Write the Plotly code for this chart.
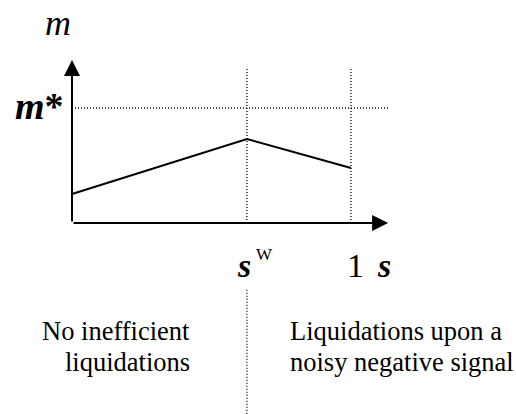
import plotly.graph_objects as go

# values (m* taken as 1, s runs 0..1)
s_pts = [0.0, 0.627, 1.0]
m_pts = [0.252, 0.730, 0.478]
s_w = 0.627
m_star = 1.0

# extent of the drawn axes / guides
s_axis_end = 1.133
m_axis_end = 1.417
guide_top = 1.339
guide_right = 1.14
low_guide = [-0.58, -1.7]

serif = "'Times New Roman', 'Liberation Serif', 'DejaVu Serif', serif"
dots = "1px,2px"

fig = go.Figure()

# dotted guides
fig.add_trace(go.Scatter(x=[0, guide_right], y=[m_star, m_star], mode="lines",
                         line=dict(color="black", width=1.3, dash=dots)))
for sx in [s_w, 1.0]:
    fig.add_trace(go.Scatter(x=[sx, sx], y=[0, guide_top], mode="lines",
                             line=dict(color="black", width=1.3, dash=dots)))
fig.add_trace(go.Scatter(x=[s_w, s_w], y=low_guide, mode="lines",
                         line=dict(color="black", width=1.3, dash=dots)))

# the m(s) curve
fig.add_trace(go.Scatter(x=s_pts, y=m_pts, mode="lines",
                         line=dict(color="black", width=2)))

# axes with arrows
fig.add_annotation(x=0, y=m_axis_end, ax=0, ay=0, axref="x", ayref="y",
                   text="", showarrow=True, arrowhead=2, arrowsize=1.6,
                   arrowwidth=2, arrowcolor="black", standoff=0)
fig.add_annotation(x=s_axis_end, y=0, ax=0, ay=0, axref="x", ayref="y",
                   text="", showarrow=True, arrowhead=2, arrowsize=1.6,
                   arrowwidth=2, arrowcolor="black", standoff=0)

big = dict(family=serif, size=34, color="black")

def label(text, x, y, xs=0, ys=0, xa="center", font=big):
    fig.add_annotation(x=x, y=y, text=text, showarrow=False, xanchor=xa,
                       yanchor="middle", xshift=xs, yshift=ys, font=font)

label("<i>m</i>", 0, m_axis_end, xs=-14, ys=37, font=dict(family=serif, size=36, color="black"))
label("<b><i>m</i>*</b>", 0, m_star, xs=-6, ys=2, xa="right",
      font=dict(family=serif, size=38, color="black"))
label("<b><i>s</i></b>", s_w, 0, xs=-3, ys=-42)
label("W", s_w, 0, xs=18, ys=-31, font=dict(family=serif, size=17, color="black"))
label("1", 1.0, 0, xs=4, ys=-42)
label("<b><i>s</i></b>", 1.0, 0, xs=33, ys=-42)

small = dict(family=serif, size=26.5, color="black")
label("No inefficient", s_w, 0, xs=-55, ys=-108, xa="right", font=small)
label("liquidations", s_w, 0, xs=-55, ys=-139, xa="right", font=small)
label("Liquidations upon a", s_w, 0, xs=41, ys=-108, xa="left", font=small)
label("noisy negative signal", s_w, 0, xs=41, ys=-139, xa="left", font=small)

fig.update_layout(
    width=516, height=414, autosize=False,
    margin=dict(l=0, r=0, t=0, b=0),
    showlegend=False,
    plot_bgcolor="white", paper_bgcolor="white",
    xaxis=dict(range=[-0.2581, 1.5914], visible=False),
    yaxis=dict(range=[-1.6609, 1.9391], visible=False),
)

fig.write_html("out.html", config={"displayModeBar": False},
               post_script="document.body.style.margin='0';")
